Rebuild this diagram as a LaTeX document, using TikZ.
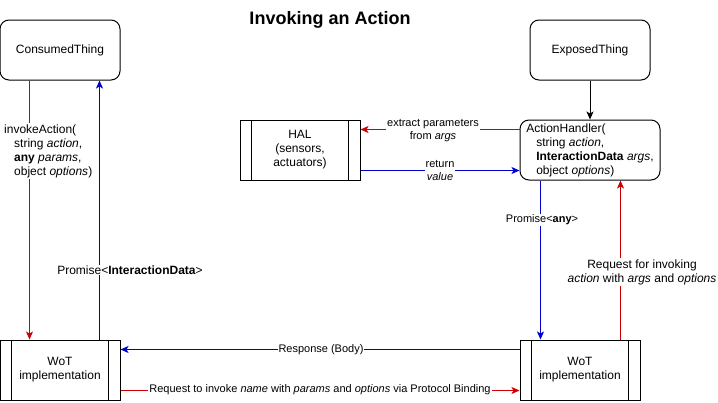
\documentclass[tikz,border=0pt]{standalone}
\usepackage{fontspec}
\setmainfont{Liberation Sans}
\usetikzlibrary{arrows.meta,calc}
\definecolor{cred}{HTML}{CC0000}
\definecolor{cblue}{HTML}{0000CC}
\begin{document}
\begin{tikzpicture}[x=1pt,y=-1pt,
  thing/.style={draw, line width=1pt, rounded corners=9pt, minimum width=120pt, minimum height=60pt, inner sep=0pt, font=\fontsize{12}{14}\selectfont},
  proc/.style={draw, line width=1pt, minimum width=120pt, minimum height=60pt, inner sep=0pt, align=center, font=\fontsize{12}{14}\selectfont},
  lbl/.style={fill=white, inner sep=1pt, align=center, font=\fontsize{12}{14}\selectfont},
  slbl/.style={fill=white, inner sep=1pt, align=center, font=\fontsize{11}{13}\selectfont},
  arr/.style={line width=1pt, -{Stealth[length=8pt,width=7pt,inset=2pt]}}
]
\useasboundingbox (0,0) rectangle (718,402);
\node[font=\bfseries\fontsize{18}{20}\selectfont] (title) at (330,20) {Invoking an Action};
\node[thing] (ct) at (60,50) {ConsumedThing};
\node[thing] (et) at (590,50) {ExposedThing};
\node[proc] (hal) at (300,150) {HAL\\(sensors,\\actuators)};
\node[thing, minimum width=140pt, align=left, font=\fontsize{12}{14}\selectfont] (ah) at (590,150)
  {ActionHandler(\\\hspace*{10pt}string \textit{action},\\\hspace*{10pt}\textbf{InteractionData} \textit{args},\\\hspace*{10pt}object \textit{options})};
\node[proc] (wl) at (60,370) {WoT\\implementation};
\node[proc] (wr) at (580,370) {WoT\\implementation};
\foreach \n in {hal,wl,wr}{
  \draw[line width=1pt] ($(\n.north west)+(12,0)$) -- ($(\n.south west)+(12,0)$);
  \draw[line width=1pt] ($(\n.north east)+(-12,0)$) -- ($(\n.south east)+(-12,0)$);
}
% connectors
\draw[arr,cred] ($(ct.south west)+(30,0)$) -- ($(wl.north west)+(30,0)$);
\node[lbl, anchor=west, align=left] (l1) at (3,151)
  {invokeAction(\\\hspace*{10pt}string \textit{action},\\\hspace*{10pt}\textbf{any} \textit{params},\\\hspace*{10pt}object \textit{options})};
\draw[arr,cblue] ($(wl.north west)+(100,0)$) -- ($(ct.south west)+(100,0)$);
\node[lbl] (l2) at (130,270) {Promise<\textbf{InteractionData}>};
\draw[arr] (et.south) -- (ah.north);
\draw[arr,cred] ($(ah.north west)+(0,10)$) -- ($(hal.north east)+(0,10)$);
\node[slbl] (l3) at (433,130.5) {extract parameters\\from \textit{args}};
\draw[arr,cblue] ($(hal.south east)+(0,-10)$) -- ($(ah.south west)+(0,-10)$);
\node[slbl] (l4) at (440,170.5) {return\\\textit{value}};
\draw[arr,cblue] ($(ah.south west)+(21,0)$) -- ($(wr.north west)+(21,0)$);
\node[slbl] (l5) at (542,220) {Promise<\textbf{any}>};
\draw[arr,cred] ($(wr.north west)+(101,0)$) -- ($(ah.south west)+(101,0)$);
\node[lbl] (l6) at (642,272) {Request for invoking\\\textit{action} with \textit{args} and \textit{options}};
\draw[arr,cblue] ($(wr.north west)+(0,10)$) -- ($(wl.north east)+(0,10)$);
\node[slbl] (l7) at (321,350) {Response (Body)};
\draw[arr,cred] ($(wl.south east)+(0,-10)$) -- ($(wr.south west)+(0,-10)$);
\node[slbl] (l8) at (320,390) {Request to invoke \textit{name} with \textit{params} and \textit{options} via Protocol Binding};
\end{tikzpicture}
\end{document}
